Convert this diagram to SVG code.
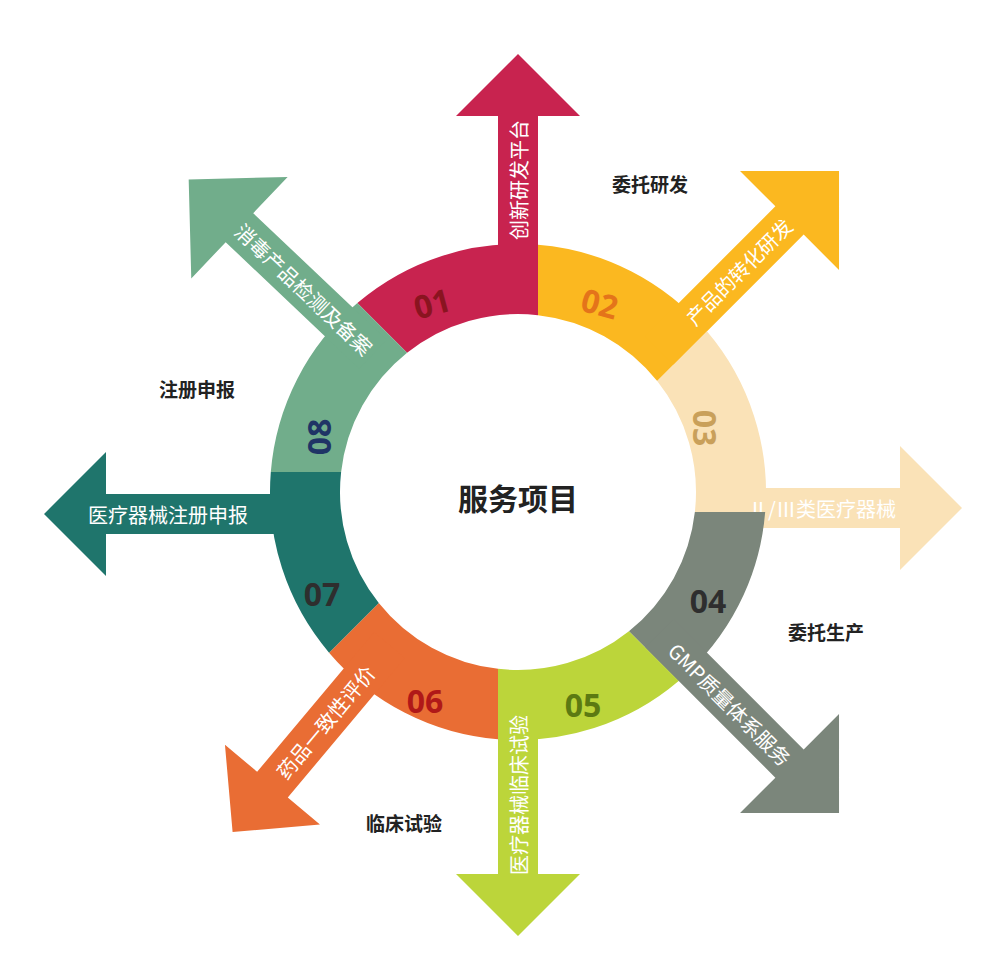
<svg xmlns="http://www.w3.org/2000/svg" width="1000" height="980" viewBox="0 0 1000 980">
<defs>
<style>
.n{font-family:"Open Sans","Noto Sans",sans-serif;font-weight:bold;font-size:32px;text-anchor:middle;dominant-baseline:central}
.a{font-family:"Noto Sans CJK SC",sans-serif;font-size:20px;fill:#fff;text-anchor:middle;dominant-baseline:central}
.l{font-family:"Noto Sans CJK SC",sans-serif;font-weight:bold;font-size:19px;fill:#222;text-anchor:middle;dominant-baseline:central}
</style>
<path id="seg" d="M-160.65,-188.93 A248 248 0 0 1 20,-247.19 L20,-176.87 A178 178 0 0 0 -110.92,-139.21 Z"/>
<path id="arr" d="M-20,-200 L-20,-382 L-62,-382 L0,-444 L62,-382 L20,-382 L20,-200 Z"/>
<path id="arrB" d="M-20,-200 L-20,-384 L-70,-384 L0,-454 L70,-384 L20,-384 L20,-200 Z"/>
</defs>
<rect width="1000" height="980" fill="#fff"/>
<g transform="translate(518,492)">
<g id="n1" fill="#C8234F"><use href="#seg"/><g transform="translate(0,6)"><use href="#arr"/><text class="a" transform="translate(0,-318) rotate(-90)">创新研发平台</text></g></g>
<g id="n2" fill="#FBB820" transform="rotate(45)"><use href="#seg"/><use href="#arrB"/><text class="a" transform="translate(0,-312) rotate(-90)">产品的转化研发</text></g>
<g id="n3" fill="#FAE2B7" transform="rotate(90)"><use href="#seg"/><g transform="translate(16,0)"><use href="#arr"/><text class="a" transform="translate(0,-304) rotate(-90)">Ⅱ/Ⅲ类医疗器械</text></g></g>
<g id="n4" fill="#7B867B" transform="rotate(135)"><use href="#seg"/><use href="#arrB"/><text class="a" transform="translate(0,-300) rotate(-90)">GMP质量体系服务</text></g>
<g id="n5" fill="#BCD53A" transform="rotate(180)"><use href="#seg"/><use href="#arr"/><text class="a" transform="translate(0,-303) rotate(90)">医疗器械临床试验</text></g>
<g id="n6" fill="#E96D34" transform="rotate(225)"><use href="#seg"/><g transform="rotate(-5)"><use href="#arr"/><text class="a" transform="translate(0,-300) rotate(90)">药品一致性评价</text></g></g>
<g id="n7" fill="#1F756C" transform="rotate(270)"><use href="#seg"/><g transform="translate(-22,-30)"><use href="#arr"/><text class="a" transform="translate(0,-320) rotate(90)">医疗器械注册申报</text></g></g>
<g id="n8" fill="#71AD8B" transform="rotate(315)"><use href="#seg"/><g transform="rotate(-1.5)"><use href="#arrB"/><text class="a" transform="translate(0,-295) rotate(90)">消毒产品检测及备案</text></g></g>
</g>
<g id="nums">
<text class="n" fill="#8A1420" transform="translate(432,303) rotate(-15)">01</text>
<text class="n" fill="#E4741A" transform="translate(600,303) rotate(15)">02</text>
<text class="n" fill="#C9A05A" transform="translate(705,428) rotate(90)">03</text>
<text class="n" fill="#2E2E2E" x="708" y="600">04</text>
<text class="n" fill="#5C7A12" x="583" y="704">05</text>
<text class="n" fill="#B01818" x="425" y="700">06</text>
<text class="n" fill="#2E2E2E" x="322" y="593">07</text>
<text class="n" fill="#1F3466" transform="translate(318,437) rotate(-90)">08</text>
</g>
<g id="labels">
<text class="l" style="font-size:30px" x="518" y="497">服务项目</text>
<text class="l" x="650" y="183">委托研发</text>
<text class="l" x="197" y="388">注册申报</text>
<text class="l" x="826" y="631">委托生产</text>
<text class="l" x="404" y="822">临床试验</text>
</g>
<g id="connectors"/>
</svg>
